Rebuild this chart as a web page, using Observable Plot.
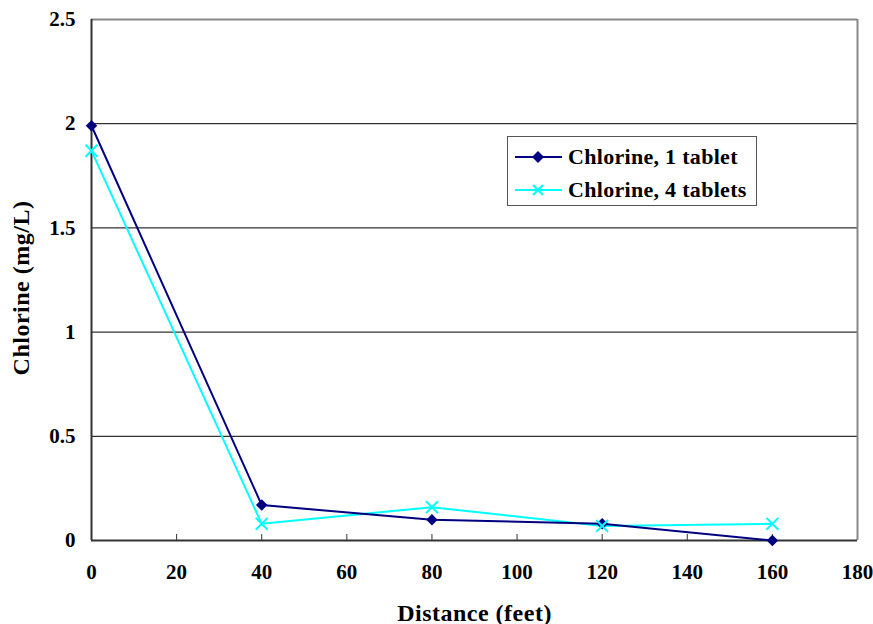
<!DOCTYPE html>
<html>
<head>
<meta charset="utf-8">
<script src="https://cdn.jsdelivr.net/npm/d3@7"></script>
<script src="https://cdn.jsdelivr.net/npm/@observablehq/plot@0.6"></script>
<style>
  html, body { margin: 0; padding: 0; background: #fff; }
  #wrap { position: relative; width: 873px; height: 624px; }
  #legend {
    position: absolute; left: 507px; top: 136px; width: 250px; height: 70px;
    border: 1px solid #555; background: #fff; box-sizing: border-box;
    font-family: "Liberation Serif", serif; font-weight: bold; font-size: 22px; letter-spacing: 0.3px; color: #000;
  }
  .row { position: absolute; left: 0; height: 30px; display: flex; align-items: center; white-space: nowrap; }
  .row svg { margin-left: 7px; margin-right: 6px; }
</style>
</head>
<body>
<div id="wrap"></div>
<script>
const distance = [0, 40, 80, 120, 160];
const oneTablet = [1.99, 0.17, 0.10, 0.08, 0.00];
const fourTablets = [1.87, 0.08, 0.16, 0.07, 0.08];
const seriesNames = ["Chlorine, 1 tablet", "Chlorine, 4 tablets"];
const seriesColors = ["#000080", "#00FFFF"];
const xTicks = [0, 20, 40, 60, 80, 100, 120, 140, 160, 180];
const yTicks = [0, 0.5, 1, 1.5, 2, 2.5];
const xTitle = "Distance (feet)";
const yTitle = "Chlorine (mg/L)";

const d1 = distance.map((x, i) => ({x, y: oneTablet[i]}));
const d4 = distance.map((x, i) => ({x, y: fourTablets[i]}));

const chart = Plot.plot({
  width: 873, height: 624,
  marginLeft: 91, marginRight: 16, marginTop: 19, marginBottom: 84,
  style: {fontFamily: "'Liberation Serif', serif", fontWeight: "bold", fontSize: "21px", background: "#fff", color: "#000"},
  x: {domain: [0, 180]},
  y: {domain: [0, 2.5]},
  marks: [
    Plot.ruleY(yTicks.filter(v => v > 0 && v < 2.5), {stroke: "#000", strokeWidth: 1}),
    Plot.ruleY([2.5], {stroke: "#888", strokeWidth: 2}),
    Plot.ruleX([180], {stroke: "#888", strokeWidth: 2}),
    Plot.ruleX([0], {stroke: "#333", strokeWidth: 2}),
    Plot.ruleY([0], {stroke: "#333", strokeWidth: 2}),
    Plot.axisX(xTicks.filter(v => v > 0 && v < 180), {tickSize: -6, tickFormat: () => "", label: null, stroke: "#333"}),
    Plot.axisX(xTicks, {tickSize: 0, tickPadding: 24, label: xTitle, labelAnchor: "center", labelOffset: 80, labelArrow: "none", fontSize: 21}),
    Plot.axisY(yTicks, {tickSize: 0, tickPadding: 16, label: yTitle, labelAnchor: "center", labelOffset: 80, labelArrow: "none", tickFormat: d => String(d), fontSize: 21})
    ,
    Plot.line(d4, {x: "x", y: "y", stroke: seriesColors[1], strokeWidth: 2}),
    Plot.line(d1, {x: "x", y: "y", stroke: seriesColors[0], strokeWidth: 2}),
    Plot.dot(d1, {x: "x", y: "y", symbol: "diamond2", r: 5.2, fill: seriesColors[0], stroke: "none"}),
    Plot.dot(d4, {x: "x", y: "y", symbol: "times", r: 5.5, stroke: seriesColors[1], strokeWidth: 2})
  ]
});
chart.querySelectorAll("[aria-label='x-axis label'] text, [aria-label='y-axis label'] text").forEach(t => {
  t.setAttribute("font-size", "24");
  t.setAttribute("letter-spacing", "0.5");
});
const yl = chart.querySelector("[aria-label='y-axis label']");
if (yl) yl.setAttribute("transform", ((yl.getAttribute("transform") || "") + " translate(0,8)").trim());
const wrap = document.getElementById("wrap");
wrap.appendChild(chart);

const legend = document.createElement("div");
legend.id = "legend";
const sym = [
  `<polygon points="23,2 29,8 23,14 17,8" fill="${seriesColors[0]}"/>`,
  `<path d="M18,3 L28,13 M28,3 L18,13" stroke="${seriesColors[1]}" stroke-width="2"/>`
];
seriesNames.forEach((name, i) => {
  const row = document.createElement("div");
  row.className = "row";
  row.style.top = (i === 0 ? 5 : 38) + "px";
  row.innerHTML = `<svg width="47" height="16"><line x1="0" y1="8" x2="47" y2="8" stroke="${seriesColors[i]}" stroke-width="2"/>${sym[i]}</svg><span>${name}</span>`;
  legend.appendChild(row);
});
wrap.appendChild(legend);
</script>
</body>
</html>
